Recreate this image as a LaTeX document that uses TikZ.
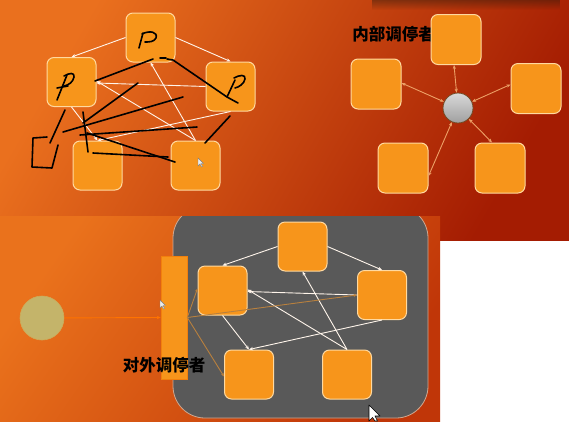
\documentclass[tikz,border=0pt]{standalone}
\usepackage{fontspec}
\newfontfamily\cjk{Noto Sans CJK SC}
\usetikzlibrary{arrows.meta,fadings}
\definecolor{bgA}{HTML}{EA701E}
\definecolor{bgB}{HTML}{A41C02}
\definecolor{bgC}{HTML}{EA721C}
\definecolor{bgD}{HTML}{C03608}
\definecolor{boxor}{HTML}{F7951B}
\definecolor{boxline}{HTML}{FFD9A0}
\definecolor{panel}{HTML}{595959}
\definecolor{panelline}{HTML}{D0A890}
\definecolor{tanline}{HTML}{B8803E}
\definecolor{hubline}{HTML}{EDA066}
\definecolor{khaki}{HTML}{C4B46A}
\tikzfading[name=softband, top color=transparent!25, bottom color=transparent!100]
\tikzset{
  sq/.style={rounded corners=7pt, minimum width=49pt, minimum height=49pt, inner sep=0pt,
    fill=boxor, draw=boxline, line width=1pt},
  wline/.style={draw=white!92!orange, line width=0.9pt, -{Stealth[length=4pt,width=3.4pt]}},
  hubarrow/.style={draw=hubline, line width=0.9pt, {Stealth[length=4pt,width=3.2pt]}-{Stealth[length=4pt,width=3.2pt]}},
  tanarrow/.style={draw=tanline, line width=0.9pt, -{Stealth[length=3.5pt,width=3pt]}},
  ink/.style={draw=black, line width=1.6pt, line cap=round, line join=round},
  cjklabel/.style={font=\cjk\bfseries\fontsize{16.5}{18}\selectfont, text=black, inner sep=0pt},
  cursor/.style={fill=white, draw=black, line width=0.6pt, line join=round}
}
\begin{document}
\begin{tikzpicture}[x=1pt,y=-1pt]
\useasboundingbox (0,0) rectangle (569,421);
\fill[white] (0,0) rectangle (569,421);
% backgrounds
\shade[top color=bgA, bottom color=bgB, shading angle=60] (0,0) rectangle (569,240);
\fill[black!80!brown, path fading=softband, opacity=0.55] (372,0) rectangle (560,10);
\shade[top color=bgC, bottom color=bgD, shading angle=55] (0,216) rectangle (440,421);

% ===== top-left diagram =====
\node[sq] (a1) at (150.5,37.5) {};
\node[sq] (b1) at (71.5,82) {};
\node[sq] (c1) at (230.5,86.5) {};
\node[sq] (d1) at (97.5,165.5) {};
\node[sq] (e1) at (195.5,165.5) {};
\draw[wline] (a1.west) -- (b1.north);
\draw[wline] (a1.east) -- (c1.north);
\draw[wline] (c1.west) -- ([yshift=-1pt]b1.east);
\draw[wline] (e1.north) -- ([yshift=1pt]b1.east);
\draw[wline] (e1.north) -- (a1.south);
\draw[wline] (b1.south) -- (d1.north);
\draw[wline] (c1.south) -- (d1.north);
% handwriting
\draw[ink] (143,33) -- (139,48);
\draw[ink] (142,34) .. controls (150,30) and (158,32) .. (156,38) .. controls (154,42) and (149,42) .. (145,42);
\draw[ink] (67,75) -- (57,100);
\draw[ink] (64,76) .. controls (69,73) and (75,72) .. (74,77) .. controls (73,82) and (69,85) .. (64,86);
\draw[ink] (57,88) -- (68,86);
\draw[ink] (235,80) -- (227,97) -- (238,103);
\draw[ink] (234,78) .. controls (239,75) and (246,74) .. (245,79) .. controls (244,84) and (239,87) .. (235,88);
\draw[ink] (95,81) -- (153,59);
\draw[ink] (160,58) -- (166,58);
\draw[ink] (167,59) -- (173,60) -- (227,97);
\draw[ink] (138,83) -- (83,123);
\draw[ink] (183,97) -- (63,132);
\draw[ink] (197,127) -- (80,135);
\draw[ink] (83,112) -- (88,152);
\draw[ink] (87,133) -- (175,162);
\draw[ink] (93,153) -- (168,157);
\draw[ink] (230,116) -- (205,143);
\draw[ink] (65,110) -- (50,143);
\draw[ink] (47,137) -- (33,138) -- (32,167) -- (52,168) -- (58,145);
% small cursor
\draw[fill=white!85!gray, draw=gray, line width=0.4pt] (198,158) -- (198,166) -- (200,164) -- (201.5,167) -- (202.5,166.5) -- (201,163.5) -- (203.5,163.5) -- cycle;

% ===== top-right diagram =====
\node[cjklabel] (inner) at (393.5,34.5) {内部调停者};
\node[sq, minimum width=50pt, minimum height=50pt] (a2) at (456,39.5) {};
\node[sq, minimum width=50pt, minimum height=50pt] (b2) at (376,84) {};
\node[sq, minimum width=50pt, minimum height=50pt] (c2) at (536,88.5) {};
\node[sq, minimum width=50pt, minimum height=50pt] (d2) at (403,168) {};
\node[sq, minimum width=50pt, minimum height=50pt] (e2) at (500,168) {};
\node[circle, minimum size=30pt, inner sep=0pt, top color=gray!30, bottom color=gray!75,
      draw=brown!60!black, line width=0.8pt] (hub) at (458,108) {};
\draw[hubarrow] (hub) -- ([xshift=-2pt]a2.south);
\draw[hubarrow] (hub) -- ([yshift=1pt]b2.east);
\draw[hubarrow] (hub) -- ([yshift=4pt]c2.west);
\draw[hubarrow] (hub) -- ([yshift=-8pt]d2.east);
\draw[hubarrow] (hub) -- ([xshift=-8pt]e2.north);

% ===== bottom diagram =====
\begin{scope}
\clip (0,216) rectangle (569,421);
\fill[panel, draw=panelline, line width=0.8pt, rounded corners=32pt] (173,206) rectangle (428,418);
\end{scope}
\node[sq] (a3) at (302.5,246.5) {};
\node[sq] (b3) at (222.5,290.5) {};
\node[sq] (c3) at (382,295) {};
\node[sq] (d3) at (249,374.5) {};
\node[sq] (e3) at (347,374.5) {};
\draw[wline] (a3.west) -- (b3.north);
\draw[wline] (a3.east) -- (c3.north);
\draw[wline] (c3.west) -- ([yshift=-1pt]b3.east);
\draw[wline] (e3.north) -- ([yshift=1pt]b3.east);
\draw[wline] (e3.north) -- (a3.south);
\draw[wline] (b3.south) -- (d3.north);
\draw[wline] (c3.south) -- (d3.north);
\node[circle, minimum size=44pt, inner sep=0pt, fill=khaki, draw=khaki!85!orange, line width=0.6pt] (src) at (42,318) {};
\node[rectangle, minimum width=26pt, minimum height=123pt, inner sep=0pt, fill=boxor, draw=orange!80!brown, line width=0.6pt] (bar) at (174,317.5) {};
\draw[draw=orange!90!red, line width=0.9pt, -{Stealth[length=4pt,width=3.4pt]}] (src) -- (bar.west);
\draw[tanarrow] (bar.east) -- ([yshift=2pt]b3.west);
\draw[tanarrow] (bar.east) -- (c3.west);
\draw[tanarrow] (bar.east) -- ([yshift=-2pt]d3.west);
\node[cjklabel] (outer) at (164,365) {对外调停者};
% cursors
\draw[cursor, fill=white!85!gray, draw=gray, line width=0.4pt] (160,300) -- (160,308) -- (162,306) -- (163.5,309) -- (164.5,308.5) -- (163,305.5) -- (165.5,305.5) -- cycle;
\draw[cursor] (369,405) -- (369,421) -- (372.5,417.5) -- (375,421) -- (377.5,421) -- (375,416) -- (380,416) -- cycle;
\end{tikzpicture}
\end{document}
